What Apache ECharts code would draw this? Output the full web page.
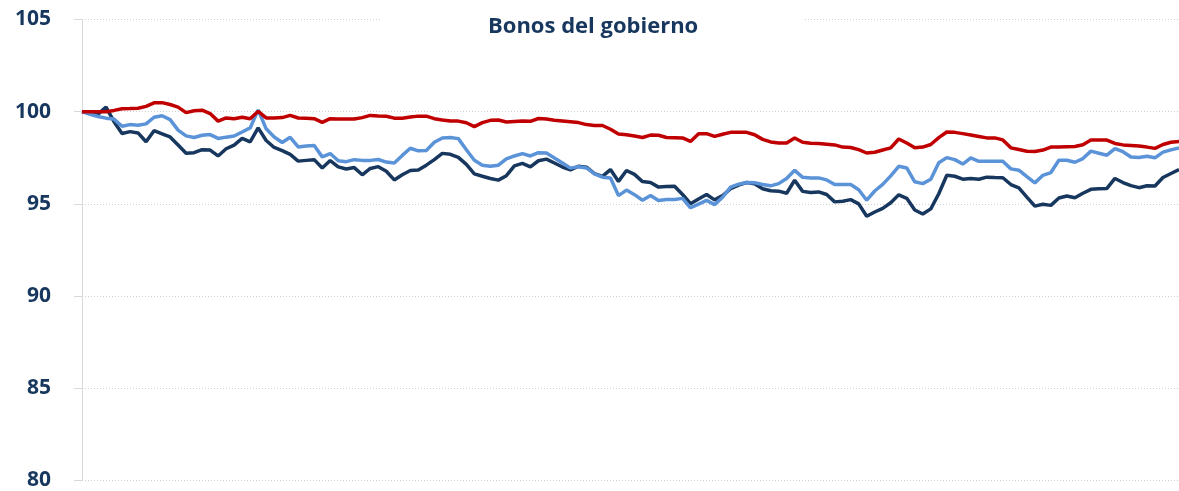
<!DOCTYPE html>
<html>
<head>
<meta charset="utf-8">
<script src="https://cdn.jsdelivr.net/npm/echarts@6/dist/echarts.min.js"></script>
<style>
html,body{margin:0;padding:0;background:#fff;}
#chart{width:1179px;height:491px;}
</style>
</head>
<body>
<div id="chart"></div>
<script>
const chartTitle = 'Bonos del gobierno';
const yTicks = [80, 85, 90, 95, 100, 105];

const seriesRed = [
100.0,100.0,100.0,100.0,100.07,100.16,100.17,100.19,100.29,100.48,
100.49,100.39,100.25,99.95,100.05,100.08,99.9,99.49,99.66,99.62,
99.7,99.62,100.02,99.66,99.66,99.68,99.8,99.66,99.64,99.62,
99.42,99.62,99.61,99.61,99.6,99.68,99.8,99.77,99.75,99.65,
99.65,99.71,99.76,99.76,99.62,99.55,99.5,99.49,99.4,99.19,
99.41,99.53,99.55,99.44,99.47,99.5,99.48,99.63,99.6,99.54,
99.5,99.46,99.41,99.3,99.25,99.25,99.05,98.79,98.75,98.68,
98.6,98.73,98.72,98.6,98.59,98.58,98.39,98.81,98.81,98.66,
98.78,98.88,98.88,98.88,98.75,98.5,98.36,98.3,98.3,98.57,
98.34,98.29,98.27,98.24,98.2,98.08,98.06,97.94,97.76,97.8,
97.92,98.04,98.52,98.3,98.04,98.08,98.22,98.59,98.9,98.88,
98.81,98.74,98.66,98.58,98.58,98.47,98.04,97.95,97.86,97.84,
97.92,98.08,98.09,98.1,98.11,98.21,98.46,98.47,98.46,98.28,
98.2,98.17,98.14,98.08,98.01,98.22,98.34,98.39
];

const seriesLightBlue = [
100.0,99.86,99.74,99.65,99.6,99.21,99.3,99.27,99.34,99.7,
99.78,99.57,99.0,98.69,98.6,98.72,98.76,98.55,98.62,98.68,
98.9,99.12,100.1,99.07,98.63,98.33,98.61,98.09,98.14,98.17,
97.55,97.73,97.34,97.29,97.4,97.36,97.36,97.41,97.27,97.22,
97.63,98.02,97.88,97.9,98.34,98.57,98.6,98.54,97.94,97.37,
97.1,97.04,97.1,97.44,97.6,97.73,97.6,97.78,97.76,97.49,
97.22,96.94,97.02,96.95,96.63,96.45,96.4,95.45,95.75,95.5,
95.2,95.46,95.19,95.24,95.24,95.3,94.79,94.99,95.19,94.96,
95.36,95.91,96.07,96.16,96.15,96.05,95.98,96.1,96.38,96.82,
96.44,96.41,96.41,96.3,96.05,96.05,96.05,95.77,95.2,95.7,
96.06,96.52,97.04,96.95,96.2,96.1,96.34,97.23,97.51,97.4,
97.16,97.5,97.31,97.31,97.31,97.31,96.9,96.83,96.48,96.14,
96.55,96.7,97.37,97.37,97.26,97.46,97.86,97.75,97.64,98.0,
97.83,97.54,97.52,97.58,97.5,97.81,97.93,98.03
];

const seriesDarkBlue = [
100.0,99.94,99.87,100.25,99.46,98.82,98.92,98.85,98.37,98.97,
98.8,98.63,98.19,97.75,97.78,97.94,97.92,97.6,97.99,98.19,
98.55,98.36,99.12,98.44,98.06,97.89,97.69,97.32,97.36,97.4,
96.95,97.35,97.01,96.89,96.97,96.58,96.92,97.02,96.77,96.3,
96.58,96.81,96.84,97.1,97.4,97.74,97.69,97.52,97.14,96.63,
96.5,96.38,96.29,96.53,97.06,97.2,97.01,97.34,97.43,97.22,
97.0,96.84,97.04,96.99,96.64,96.49,96.86,96.22,96.81,96.6,
96.21,96.16,95.91,95.94,95.96,95.51,95.01,95.26,95.51,95.22,
95.45,95.82,96.02,96.16,96.09,95.82,95.71,95.69,95.58,96.28,
95.68,95.62,95.65,95.51,95.11,95.14,95.23,95.0,94.33,94.56,
94.76,95.06,95.49,95.3,94.67,94.45,94.73,95.55,96.55,96.5,
96.34,96.38,96.34,96.45,96.43,96.42,96.05,95.87,95.37,94.88,
94.98,94.92,95.32,95.43,95.33,95.58,95.79,95.82,95.84,96.38,
96.16,95.99,95.88,95.98,95.97,96.43,96.65,96.86
];

const periods = seriesRed.map((_, i) => String(i + 1));

const chart = echarts.init(document.getElementById('chart'), null, {renderer: 'canvas'});
const labelColor = '#17375E';
chart.setOption({
  animation: false,
  backgroundColor: '#ffffff',
  title: {
    text: chartTitle,
    left: 382,
    top: 11,
    padding: [5, 106, 5, 106],
    backgroundColor: '#ffffff',
    textStyle: {
      color: labelColor,
      fontFamily: 'Open Sans',
      fontWeight: 'bold',
      fontSize: 22
    }
  },
  grid: {left: 82, right: 0, top: 19.5, bottom: 9.3, containLabel: false},
  xAxis: {
    type: 'category',
    data: periods,
    boundaryGap: false,
    axisLine: {show: false},
    axisTick: {show: false},
    axisLabel: {show: false},
    splitLine: {show: false}
  },
  yAxis: {
    type: 'value',
    min: yTicks[0],
    max: yTicks[yTicks.length - 1],
    interval: 5,
    axisLine: {show: true, lineStyle: {color: '#d9d9d9', width: 1}},
    axisTick: {show: true, length: 8, lineStyle: {color: '#d9d9d9', width: 1}},
    axisLabel: {
      color: labelColor,
      fontFamily: 'Open Sans',
      fontWeight: 'bold',
      fontSize: 21,
      margin: 31
    },
    splitLine: {show: true, lineStyle: {color: '#cfcfcf', type: [1, 2], width: 1}}
  },
  series: [
    {name: 'dark', type: 'line', data: seriesDarkBlue, showSymbol: false, symbol: 'none',
     lineStyle: {color: '#17375E', width: 3.5}, itemStyle: {color: '#17375E'}},
    {name: 'light', type: 'line', data: seriesLightBlue, showSymbol: false, symbol: 'none',
     lineStyle: {color: '#5B93D9', width: 3.5}, itemStyle: {color: '#5B93D9'}},
    {name: 'red', type: 'line', data: seriesRed, showSymbol: false, symbol: 'none',
     lineStyle: {color: '#C00000', width: 3.5}, itemStyle: {color: '#C00000'}}
  ]
});
</script>
</body>
</html>
